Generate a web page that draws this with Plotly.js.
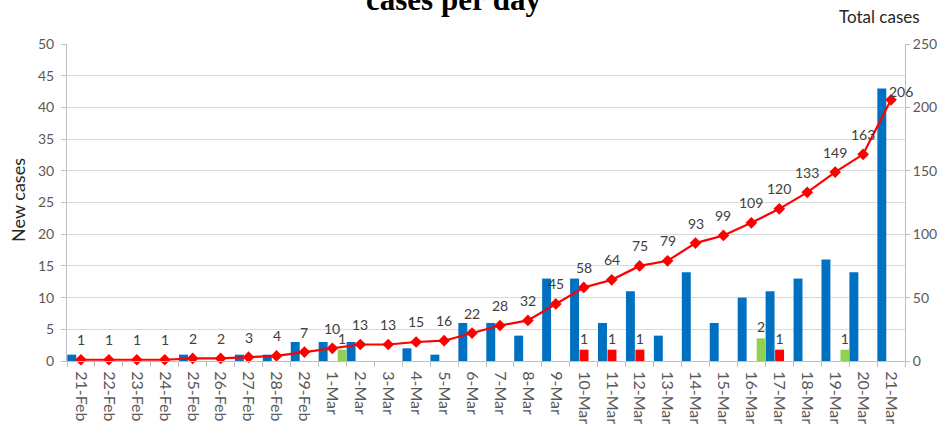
<!DOCTYPE html>
<html>
<head>
<meta charset="utf-8">
<script src="https://cdn.plot.ly/plotly-3.0.1.min.js"></script>
<style>html,body{margin:0;padding:0;background:#fff;}#chart{width:941px;height:430px;}</style>
</head>
<body>
<div id="chart"></div>
<script>
const dates = ["21-Feb","22-Feb","23-Feb","24-Feb","25-Feb","26-Feb","27-Feb","28-Feb","29-Feb",
  "1-Mar","2-Mar","3-Mar","4-Mar","5-Mar","6-Mar","7-Mar","8-Mar","9-Mar","10-Mar","11-Mar",
  "12-Mar","13-Mar","14-Mar","15-Mar","16-Mar","17-Mar","18-Mar","19-Mar","20-Mar","21-Mar"];
const newCases = [1,0,0,0,1,0,1,1,3,3,3,0,2,1,6,6,4,13,13,6,11,4,14,6,10,11,13,16,14,43];
const deaths =   [null,null,null,null,null,null,null,null,null,null,null,null,null,null,null,null,null,null,1,1,1,null,null,null,null,1,null,null,null,null];
const recovered =[null,null,null,null,null,null,null,null,null,1,null,null,null,null,null,null,null,null,null,null,null,null,null,null,2,null,null,1,null,null];
const totalCases = [1,1,1,1,2,2,3,4,7,10,13,13,15,16,22,28,32,45,58,64,75,79,93,99,109,120,133,149,163,206];

const tickFont = {family: "Lato, 'Liberation Sans', sans-serif", size: 14, color: "#595959"};
const xTickFont = {family: "Lato, 'Liberation Sans', sans-serif", size: 16, color: "#595959"};
const axisGrey = "#bfbfbf";

const traces = [
  {type: "bar", x: dates, y: newCases, yaxis: "y", marker: {color: "#0070C0"},
   width: 0.32, offset: -0.49, hoverinfo: "y"},
  {type: "bar", x: dates, y: deaths, yaxis: "y3", marker: {color: "#FF0000"},
   width: 0.32, offset: -0.15, text: deaths.map(v => v == null ? "" : String(v)),
   textposition: "outside", constraintext: "none", cliponaxis: false,
   textfont: {family: "Lato, sans-serif", size: 14, color: "#404040"}},
  {type: "bar", x: dates, y: recovered, yaxis: "y3", marker: {color: "#92D050"},
   width: 0.31, offset: 0.19, text: recovered.map(v => v == null ? "" : String(v)),
   textposition: "outside", constraintext: "none", cliponaxis: false,
   textfont: {family: "Lato, sans-serif", size: 14, color: "#404040"}},
  {type: "scatter", mode: "lines+markers", x: dates, y: totalCases, yaxis: "y2",
   line: {color: "#FF0000", width: 2.2},
   marker: {symbol: "diamond", size: 9, color: "#FF0000"}, cliponaxis: false}
];

const last = totalCases.length - 1;
const annotations = totalCases.map((v, i) => ({
  x: dates[i], y: v, xref: "x", yref: "y2", text: String(v), showarrow: false,
  xanchor: "center", yanchor: "middle",
  yshift: i === last ? 8 : 20, xshift: i === last ? 10 : 0,
  font: {family: "Lato, sans-serif", size: 14, color: "#404040"}
}));
annotations.push(
  {xref: "paper", yref: "paper", x: 0.462, y: 1.139, xanchor: "center", yanchor: "middle", showarrow: false,
   text: "<b>cases per day</b>", font: {family: "'Liberation Serif', 'Times New Roman', serif", size: 31, color: "#000"}},
  {xref: "paper", yref: "paper", x: 0.970, y: 1.088, xanchor: "center", yanchor: "middle", showarrow: false,
   text: "Total cases", font: {family: "Lato, sans-serif", size: 17, color: "#262626"}},
  {xref: "paper", yref: "paper", x: -0.0585, y: 0.508, xanchor: "center", yanchor: "middle", showarrow: false,
   textangle: -90, text: "New cases", font: {family: "Lato, sans-serif", size: 18, color: "#262626"}}
);

const layout = {
  width: 941, height: 430,
  margin: {l: 67, r: 36, t: 44, b: 69},
  paper_bgcolor: "#fff", plot_bgcolor: "#fff",
  showlegend: false,
  barmode: "overlay",
  xaxis: {type: "category", tickangle: 90, tickfont: xTickFont, ticks: "outside", tickson: "boundaries",
    ticklen: 5, tickcolor: axisGrey, showline: true, linecolor: axisGrey, showgrid: false,
    ticklabelstandoff: 6, range: [-0.5, 29.5], fixedrange: true},
  yaxis: {range: [0, 50], dtick: 5, tickfont: tickFont, ticks: "outside", ticklen: 5, tickcolor: axisGrey,
    ticklabelstandoff: 4, showline: true, linecolor: axisGrey, gridcolor: "#d9d9d9", zeroline: false},
  yaxis2: {range: [0, 250], dtick: 50, overlaying: "y", side: "right", tickfont: tickFont, ticks: "outside",
    ticklen: 4, tickcolor: axisGrey, showline: true, linecolor: axisGrey, showgrid: false, zeroline: false},
  yaxis3: {range: [0, 28], overlaying: "y", visible: false, showgrid: false, zeroline: false},
  annotations: annotations
};

Plotly.newPlot("chart", traces, layout, {displayModeBar: false, staticPlot: true});
</script>
</body>
</html>
